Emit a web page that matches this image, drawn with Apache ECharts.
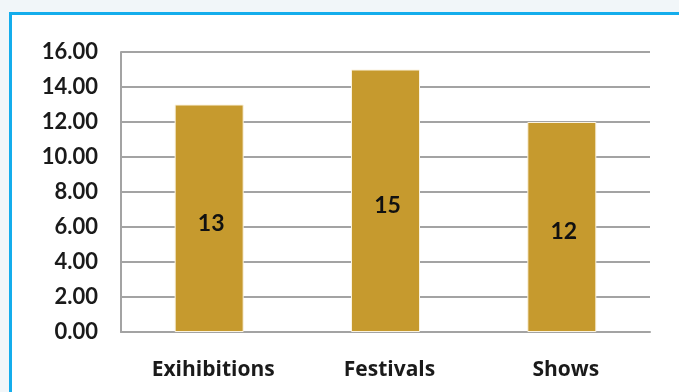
<!DOCTYPE html>
<html>
<head>
<meta charset="utf-8">
<script src="https://cdn.jsdelivr.net/npm/echarts@6/dist/echarts.min.js"></script>
<style>
html,body{margin:0;padding:0;width:679px;height:392px;overflow:hidden;background:#f1f6f9;}
#frame{position:absolute;left:9px;top:12px;width:700px;height:400px;background:#fff;border-left:3px solid #14adec;border-top:3px solid #14adec;}
#main{position:absolute;left:0;top:0;width:679px;height:392px;}
</style>
</head>
<body>
<div id="frame"></div>
<div id="main"></div>
<script>
// data
var categories = ['Exihibitions', 'Festivals', 'Shows'];
var values = [13, 15, 12];
var yMin = 0, yMax = 16, yStep = 2;

var myChart = echarts.init(document.getElementById('main'));
var fontName = 'Lato, "Open Sans", sans-serif';
var option = {
	animation: false,
	grid: { left: 121, right: 29, top: 52, bottom: 60 },
	xAxis: {
		type: 'category',
		data: categories,
		axisLine: { show: true, lineStyle: { color: '#a3a3a3', width: 2 } },
		axisTick: { show: false },
		axisLabel: { color: '#1a1a1a', fontFamily: '"Open Sans", sans-serif', fontWeight: 'bold', fontSize: 21, margin: 28, padding: [0, 0, 0, 8] }
	},
	yAxis: {
		type: 'value',
		min: yMin, max: yMax, interval: yStep,
		axisLine: { show: true, lineStyle: { color: '#a3a3a3', width: 2 } },
		axisTick: { show: false },
		splitLine: { lineStyle: { color: '#a3a3a3', width: 2 } },
		axisLabel: {
			color: '#1a1a1a', fontFamily: fontName, fontWeight: 'bold', fontSize: 22, margin: 23,
			formatter: function (v) { return v.toFixed(2); }
		}
	},
	series: [{
		type: 'bar',
		data: values,
		barWidth: 69,
		itemStyle: { color: '#c69a2e', borderColor: '#fbf3e0', borderWidth: 1 },
		label: {
			show: true, position: 'inside', offset: [2, 5],
			color: '#111', fontFamily: fontName, fontWeight: 'bold', fontSize: 23
		}
	}]
};
myChart.setOption(option);
</script>
</body>
</html>
